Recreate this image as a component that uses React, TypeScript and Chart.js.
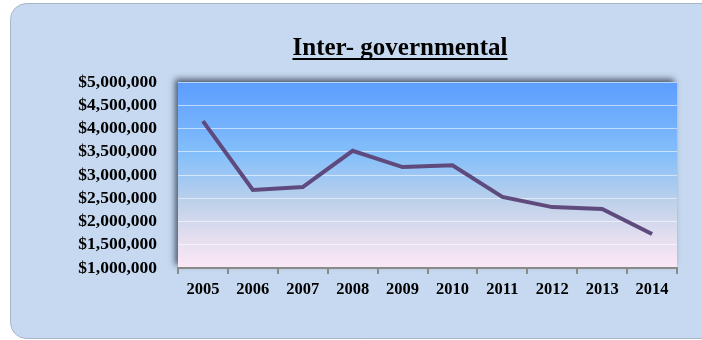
import React, { useEffect, useRef } from "react";
import { Chart, registerables } from "chart.js";

Chart.register(...registerables);

const years = ["2005", "2006", "2007", "2008", "2009", "2010", "2011", "2012", "2013", "2014"];
const amounts = [4160000, 2680000, 2740000, 3520000, 3170000, 3210000, 2530000, 2310000, 2270000, 1730000];
const chartTitle = "Inter- governmental";
const yMin = 1000000;
const yMax = 5000000;
const yStep = 500000;

const bgPlugin = {
  id: "bgPlugin",
  beforeDraw(chart: any) {
    const { ctx, chartArea } = chart;
    const { left, top, right, bottom } = chartArea;
    ctx.save();
    const x0 = 10.5, y0 = 3.5, x1 = 730, y1 = 338.5, r = 16;
    ctx.beginPath();
    ctx.moveTo(x0 + r, y0);
    ctx.lineTo(x1, y0);
    ctx.lineTo(x1, y1);
    ctx.lineTo(x0 + r, y1);
    ctx.arcTo(x0, y1, x0, y1 - r, r);
    ctx.lineTo(x0, y0 + r);
    ctx.arcTo(x0, y0, x0 + r, y0, r);
    ctx.closePath();
    ctx.fillStyle = "#c6d9f0";
    ctx.fill();
    ctx.strokeStyle = "#a8b5c6";
    ctx.lineWidth = 1;
    ctx.stroke();
    ctx.save();
    ctx.shadowColor = "rgba(40,50,70,0.75)";
    ctx.shadowBlur = 6;
    ctx.shadowOffsetX = -3;
    ctx.shadowOffsetY = -3;
    ctx.fillStyle = "#8fb0d8";
    ctx.fillRect(left, top, right - left, bottom - top);
    ctx.restore();
    const g = ctx.createLinearGradient(0, top, 0, bottom);
    g.addColorStop(0, "#5c9dff");
    g.addColorStop(0.4, "#86c0fa");
    g.addColorStop(0.65, "#bfd1ea");
    g.addColorStop(0.85, "#e6dff0");
    g.addColorStop(1, "#fbe8f6");
    ctx.fillStyle = g;
    ctx.fillRect(left, top, right - left, bottom - top);
    ctx.font = "bold 25px 'Liberation Serif', serif";
    ctx.fillStyle = "#000";
    ctx.textAlign = "center";
    ctx.textBaseline = "alphabetic";
    const cx = 400, by = 55;
    ctx.fillText(chartTitle, cx, by);
    const w = ctx.measureText(chartTitle).width;
    ctx.fillRect(cx - w / 2, by + 3, w, 2);
    ctx.restore();
  },
};

export default function App() {
  const ref = useRef<HTMLCanvasElement>(null);
  useEffect(() => {
    document.body.style.margin = "0";
    const chart = new Chart(ref.current!, {
      type: "line",
      data: {
        labels: years,
        datasets: [
          {
            data: amounts,
            borderColor: "#5f4a7d",
            borderWidth: 4,
            pointRadius: 0,
            tension: 0,
            fill: false,
          },
        ],
      },
      options: {
        animation: false,
        responsive: false,
        layout: { padding: { left: 10, right: 25, top: 82, bottom: 0 } },
        plugins: { legend: { display: false }, title: { display: false }, tooltip: { enabled: false } },
        scales: {
          x: {
            offset: true,
            grid: { drawOnChartArea: false, drawTicks: true, tickLength: 6, color: "#8a8a8a", lineWidth: 2, offset: true },
            border: { display: true, color: "#8a8a8a", width: 2 },
            ticks: {
              color: "#000",
              padding: 6,
              autoSkip: false,
              font: { family: "'Liberation Serif', serif", size: 16.5, weight: "bold" },
              maxRotation: 0,
            },
            afterFit(scale: any) {
              scale.height = 72;
            },
          },
          y: {
            min: yMin,
            max: yMax,
            grid: { drawTicks: false, color: "rgba(255,255,255,0.55)", lineWidth: 1 },
            border: { display: false },
            ticks: {
              stepSize: yStep,
              autoSkip: false,
              color: "#000",
              padding: 21,
              font: { family: "'Liberation Serif', serif", size: 17.5, weight: "bold", lineHeight: 1 },
              callback: (v: any) => "$" + Number(v).toLocaleString("en-US"),
            },
            afterFit(scale: any) {
              scale.width = 168;
            },
          },
        },
      },
      plugins: [bgPlugin],
    });
    return () => chart.destroy();
  }, []);
  return <canvas ref={ref} width={702} height={340} style={{ display: "block" }} />;
}
